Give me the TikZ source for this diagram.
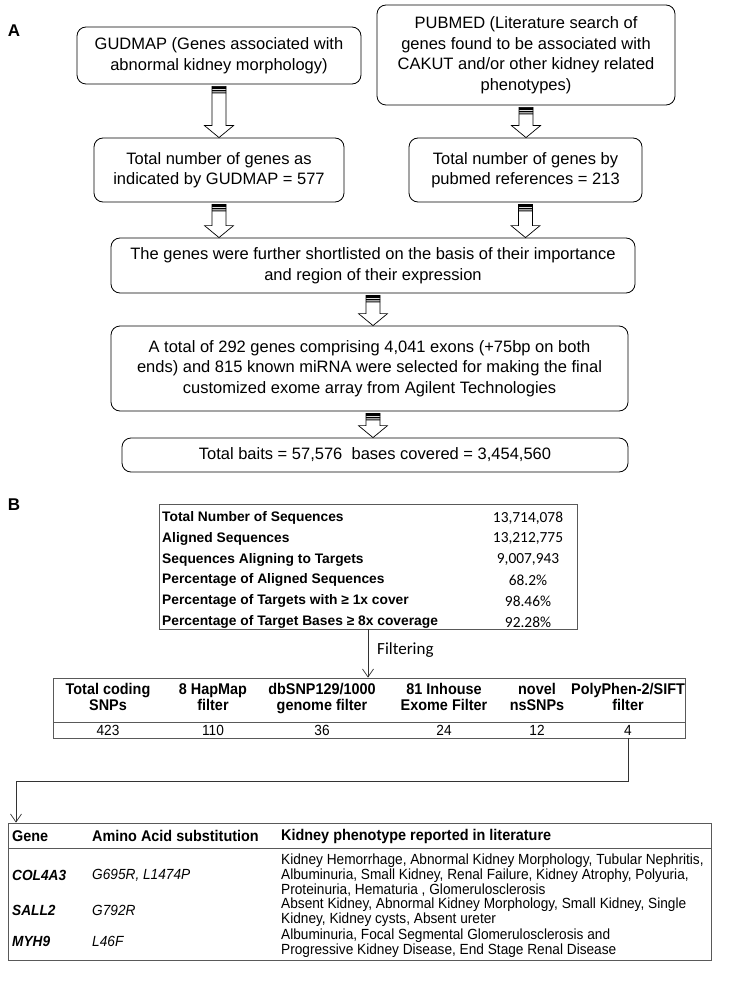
\documentclass[tikz,border=0pt]{standalone}
\usepackage{fontspec}
\setmainfont{Liberation Sans}
\newfontfamily\calfont{Carlito}
\newfontfamily\narrowfont[FakeStretch=0.93]{Liberation Sans}
\usetikzlibrary{arrows.meta,calc}

% hollow block arrow with striped tail, from #1 down to #2
\newcommand\fatarrow[2]{%
  \path[draw=black, fill=white, line width=0.7pt] let \p1=#1, \p2=#2 in
    (\x1-7pt,\y1-2pt) -- (\x1-7pt,\y2+12pt) -- (\x1-14.5pt,\y2+12pt)
    -- (\x1,\y2) -- (\x1+14.5pt,\y2+12pt) -- (\x1+7pt,\y2+12pt)
    -- (\x1+7pt,\y1-2pt) -- cycle;
  \path[fill=black] let \p1=#1 in
    (\x1-7pt,\y1-2pt) rectangle (\x1+7pt,\y1-4.5pt)
    (\x1-7pt,\y1-5.5pt) rectangle (\x1+7pt,\y1-7pt)
    (\x1-7pt,\y1-8pt) rectangle (\x1+7pt,\y1-9pt);}

\begin{document}
\begin{tikzpicture}[x=1pt, y=-1pt,
  flowbox/.style={draw=black, line width=0.8pt, rounded corners=9pt,
    align=center, inner sep=0pt, font=\fontsize{16.5}{20.5}\selectfont},
  panel/.style={font=\fontsize{17}{20}\selectfont\bfseries},
  tabframe/.style={draw=black!65, line width=0.8pt, inner sep=0pt},
  stat/.style={font=\calfont\fontsize{15.4}{18}\selectfont, inner sep=0pt},
  statlab/.style={font=\bfseries\fontsize{13.8}{16}\selectfont, inner sep=0pt},
  colhead/.style={font=\narrowfont\bfseries\fontsize{15.5}{16.5}\selectfont,
    align=center, inner sep=0pt},
  cell/.style={font=\narrowfont\fontsize{14.7}{15}\selectfont, align=left,
    inner sep=0pt},
  arr/.style={draw=black!80, line width=0.7pt,
    -{Straight Barb[length=8pt,width=11pt]}}]
	\fill[white] (0,0) rectangle (735,987);
	\useasboundingbox (0,0) rectangle (735,987);
	% panel A: gene selection
	\node[panel] (labA) at (14,31) {A};
	\node[flowbox, minimum width=284pt, minimum height=57pt] (gudmap) at (219,55.5) {GUDMAP (Genes associated with\\abnormal kidney morphology)};
	\node[flowbox, minimum width=298pt, minimum height=100pt] (pubmed) at (526,55) {PUBMED (Literature search of\\genes found to be associated with\\CAKUT and/or other kidney related\\phenotypes)};
	\node[flowbox, minimum width=250pt, minimum height=64pt] (gudtotal) at (219,170) {Total number of genes as\\indicated by GUDMAP = 577};
	\node[flowbox, minimum width=233pt, minimum height=64pt] (pubtotal) at (525.5,170) {Total number of genes by\\pubmed references = 213};
	\node[flowbox, minimum width=524pt, minimum height=55pt] (shortlist) at (373,265.5) {The genes were further shortlisted on the basis of their importance\\and region of their expression};
	\node[flowbox, minimum width=517pt, minimum height=85pt] (selected) at (369.5,368.5) {A total of 292 genes comprising 4,041 exons (+75bp on both\\ends) and 815 known miRNA were selected for making the final\\customized exome array from Agilent Technologies};
	\node[flowbox, minimum width=506pt, minimum height=34pt] (baits) at (375,455) {Total baits = 57,576\ \ bases covered = 3,454,560};
	\fatarrow{(gudmap.south)}{(gudmap.south |- gudtotal.north)}
	\fatarrow{(pubmed.south)}{(pubmed.south |- pubtotal.north)}
	\fatarrow{(gudtotal.south)}{(gudtotal.south |- shortlist.north)}
	\fatarrow{(pubtotal.south)}{(pubtotal.south |- shortlist.north)}
	\fatarrow{(shortlist.south)}{(shortlist.south |- selected.north)}
	\fatarrow{(shortlist.south |- selected.south)}{(shortlist.south |- baits.north)}
	% panel B: sequencing and filtering
	\node[panel] (labB) at (14,505) {B};
	\node[tabframe, minimum width=418pt, minimum height=125pt] (stats) at (368,566.5) {};
	\foreach \lab/\val [count=\i] in {Total Number of Sequences/{13,714,078},
	    Aligned Sequences/{13,212,775}, Sequences Aligning to Targets/{9,007,943},
	    Percentage of Aligned Sequences/68.2\%,
	    Percentage of Targets with ≥ 1x cover/98.46\%,
	    Percentage of Target Bases ≥ 8x coverage/92.28\%} {
		\node[statlab, anchor=west] (stlab-\i) at (162,{518+20.8*(\i-1)}) {\lab};
		\node[stat] (stval-\i) at (528,{518+20.8*(\i-1)}) {\val};
	}
	\node[tabframe, minimum width=632pt, minimum height=60pt] (filt) at (369,708) {};
	\draw[draw=black!65, line width=0.8pt] (53,722) -- (685,722);
	\foreach \cx/\hd/\nv [count=\i] in {108/{Total coding\\SNPs}/423,
	    213/{8 HapMap\\filter}/110, 322/{dbSNP129/1000\\genome filter}/36,
	    444/{81 Inhouse\\Exome Filter}/24, 537/{novel\\nsSNPs}/12,
	    628/{PolyPhen-2/SIFT\\filter}/4} {
		\node[colhead, anchor=north] (hd-\i) at (\cx,683) {\hd};
		\node[cell] (nv-\i) at (\cx,730) {\nv};
	}
	\draw[arr] (stats.south) -- (stats.south |- filt.north);
	\node[anchor=west, inner sep=0pt, font=\calfont\fontsize{17}{20}\selectfont] (filtering) at (377,650) {Filtering};
	% candidate genes
	\node[tabframe, minimum width=703pt, minimum height=137pt] (gene) at (359.5,891.5) {};
	\draw[draw=black!65, line width=0.8pt] (8,848) -- (711,848);
	\node[colhead, anchor=west] (gh-1) at (12,836) {Gene};
	\node[colhead, anchor=west] (gh-2) at (92,836) {Amino Acid substitution};
	\node[colhead, anchor=west] (gh-3) at (281,836) {Kidney phenotype reported in literature};
	\node[cell, anchor=west] (g-col) at (12,875) {\bfseries\itshape COL4A3};
	\node[cell, anchor=west] (a-col) at (92,875) {\itshape G695R, L1474P};
	\node[cell, anchor=west] (p-col) at (281,875) {Kidney Hemorrhage, Abnormal Kidney Morphology, Tubular Nephritis,\\Albuminuria, Small Kidney, Renal Failure, Kidney Atrophy, Polyuria,\\Proteinuria, Hematuria , Glomerulosclerosis};
	\node[cell, anchor=west] (g-sal) at (12,910) {\bfseries\itshape SALL2};
	\node[cell, anchor=west] (a-sal) at (92,910) {\itshape G792R};
	\node[cell, anchor=west] (p-sal) at (281,912.5) {Absent Kidney, Abnormal Kidney Morphology, Small Kidney, Single\\Kidney, Kidney cysts, Absent ureter};
	\node[cell, anchor=west] (g-myh) at (12,941) {\bfseries\itshape MYH9};
	\node[cell, anchor=west] (a-myh) at (92,941) {\itshape L46F};
	\node[cell, anchor=west] (p-myh) at (281,943.5) {Albuminuria, Focal Segmental Glomerulosclerosis and\\Progressive Kidney Disease, End Stage Renal Disease};
	\coordinate (bend) at (16,781);
	\draw[arr] (nv-6 |- filt.south) |- (bend) -- (bend |- gene.north);
\end{tikzpicture}
\end{document}
